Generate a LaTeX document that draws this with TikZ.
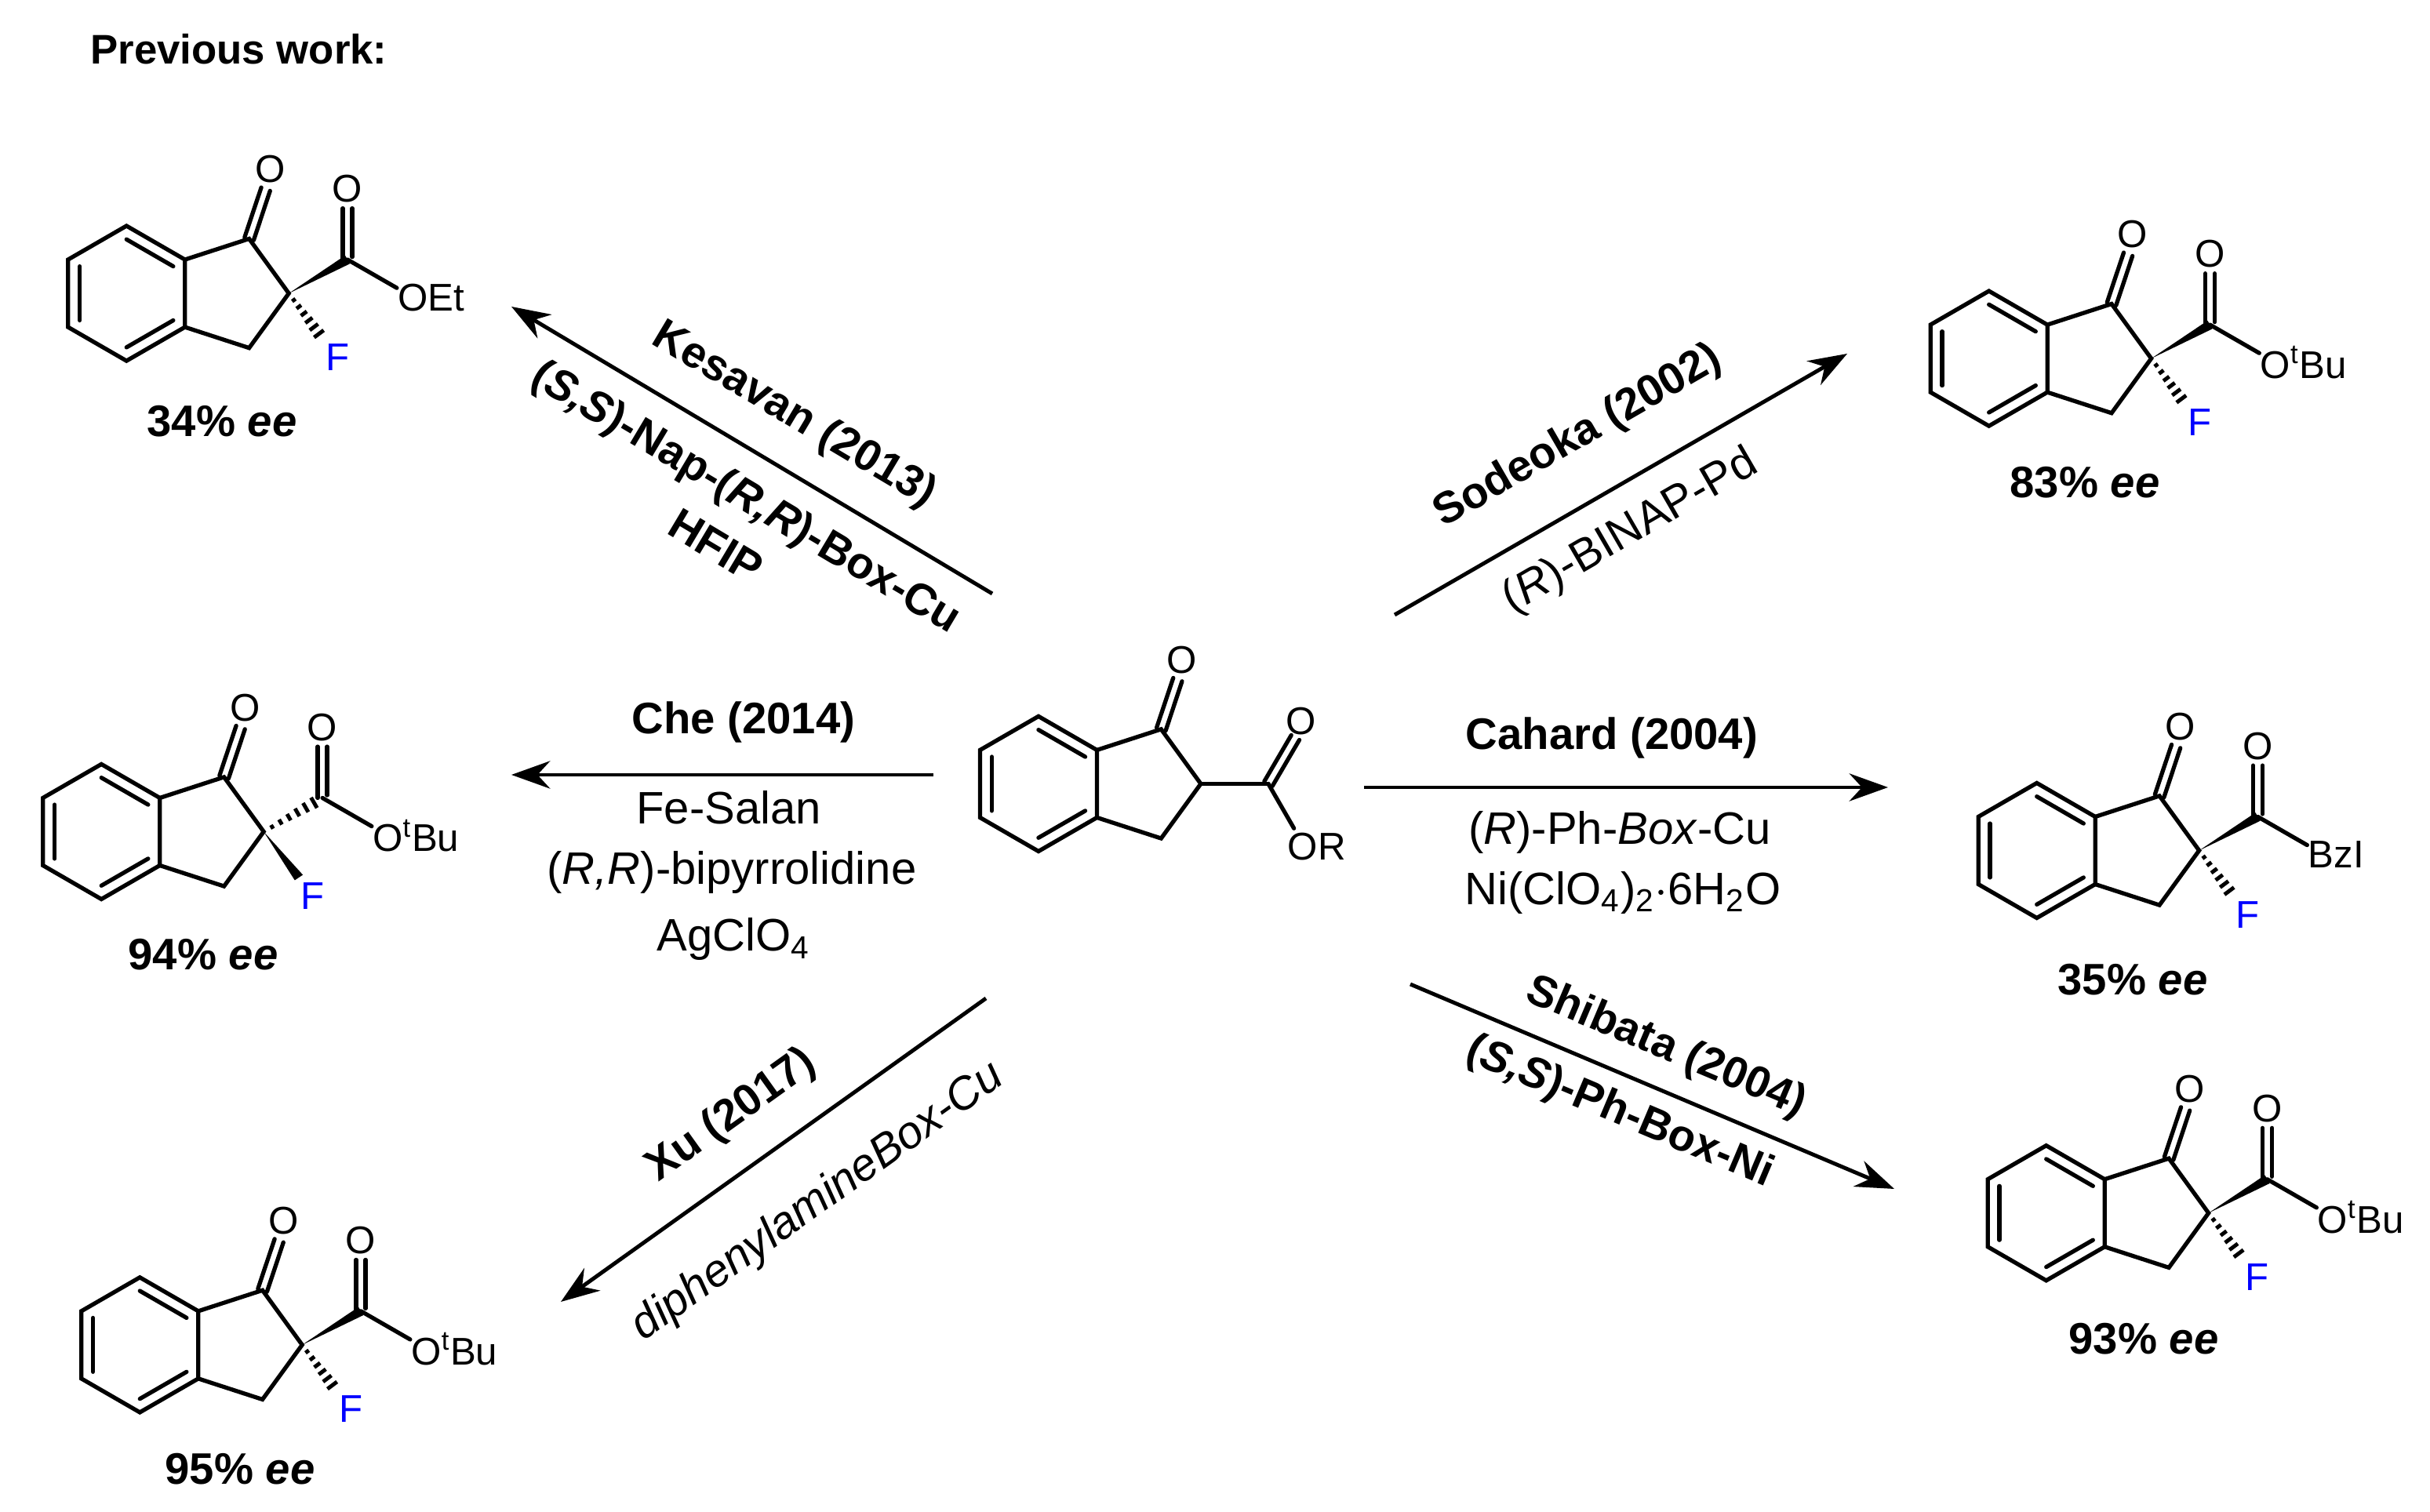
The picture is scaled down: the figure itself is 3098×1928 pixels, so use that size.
\documentclass[tikz,border=0pt]{standalone}
\usepackage{fontspec}
\setmainfont{Liberation Sans}
\usetikzlibrary{calc,arrows.meta}
\tikzset{
  bond/.style={line width=1.5pt,line cap=round},
  atom/.style={inner sep=0pt,font=\fontsize{14}{16}\selectfont},
  fatom/.style={atom,text=blue},
  eelab/.style={font=\fontsize{16}{19}\selectfont\bfseries},
  rname/.style={font=\fontsize{16}{19}\selectfont\bfseries},
  rgt/.style={font=\fontsize{16.5}{19}\selectfont},
  rxn/.style={line width=1.4pt,-{Stealth[length=14pt,width=10pt]}},
}
\newcommand{\indcore}{%
  \coordinate (C2) at (0,0);
  \coordinate (UR) at (-1.539,0.5); \coordinate (LR) at (-1.539,-0.5);
  \coordinate (C1) at (-0.588,0.809); \coordinate (C3) at (-0.588,-0.809);
  \coordinate (BC) at (-2.405,0);
  \coordinate (BT) at (-2.405,1); \coordinate (BB) at (-2.405,-1);
  \coordinate (UL) at (-3.271,0.5); \coordinate (LL) at (-3.271,-0.5);
  \draw[bond] (BT)--(UR)--(LR)--(BB)--(LL)--(UL)--cycle;
  \draw[bond] (UR)--(C1)--(C2)--(C3)--(LR);
  \draw[bond] ($(BT)!0.2!(BC)$)--($(UR)!0.2!(BC)$);
  \draw[bond] ($(UL)!0.2!(BC)$)--($(LL)!0.2!(BC)$);
  \draw[bond] ($(BB)!0.2!(BC)$)--($(LR)!0.2!(BC)$);
  \draw[bond] ($(C1)+(-0.067,0.022)$)--($(C1)+(0.18,0.76)$);
  \draw[bond] ($(C1)+(0.067,-0.022)$)--($(C1)+(0.31,0.71)$);
  \node[atom] (OK) at ($(C1)+(0.31,1.03)$) {O};
}
% #1 shift, #2 mode (1 wedge ester / hash F; 2 hash ester / wedge F), #3 tail text
\newcommand{\prodmol}[3]{%
\begin{scope}[shift={#1},x=0.86cm,y=0.86cm]
  \indcore
  \coordinate (E) at (0.87,0.5);
  \draw[bond] ($(E)+(-0.07,0)$)--($(E)+(-0.07,0.76)$);
  \draw[bond] ($(E)+(0.07,0.04)$)--($(E)+(0.07,0.76)$);
  \node[atom] (OE) at ($(E)+(0,1.05)$) {O};
  \draw[bond] (E)--($(E)+(0.73,-0.42)$);
  \node[atom,anchor=west] (T) at ($(E)+(0.74,-0.56)$) {#3};
  \node[fatom] (F) at (0.72,-0.95) {F};
  \ifnum#2=1
    \fill (0,0)--(0.835,0.561)--(0.905,0.439)--cycle;
    \foreach \i in {1,...,6}{\pgfmathsetmacro\t{\i/7}\pgfmathsetmacro\w{0.02+0.08*\t}
      \draw[line width=1.4pt] ($\t*(0.52,-0.7)+\w*(0.8,0.6)$)--($\t*(0.52,-0.7)-\w*(0.8,0.6)$);}
  \else
    \fill (0,0)--(0.46,-0.72)--(0.58,-0.64)--cycle;
    \foreach \i in {1,...,6}{\pgfmathsetmacro\t{\i/7}\pgfmathsetmacro\w{0.02+0.08*\t}
      \draw[line width=1.4pt] ($\t*(0.87,0.5)+\w*(-0.5,0.87)$)--($\t*(0.87,0.5)-\w*(-0.5,0.87)$);}
  \fi
\end{scope}}
\begin{document}
\begin{tikzpicture}[x=0.01cm,y=0.01cm]
\useasboundingbox (0,0) rectangle (3098,1928);
\node[anchor=west,font=\fontsize{15}{18}\selectfont\bfseries] (title) at (103,{1928-63}) {Previous work:};
% central
\begin{scope}[shift={(15.30cm,9.28cm)},x=0.86cm,y=0.86cm]
  \indcore
  \coordinate (E) at (1,0);
  \draw[bond] (C2)--(E);
  \draw[bond] ($(E)+(-0.06,0.035)$)--($(E)+(0.34,0.72)$);
  \draw[bond] ($(E)+(0.06,-0.035)$)--($(E)+(0.46,0.65)$);
  \node[atom] (OC) at ($(E)+(0.48,0.93)$) {O};
  \draw[bond] (E)--($(E)+(0.38,-0.66)$);
  \node[atom,anchor=west] (OR) at ($(E)+(0.28,-0.93)$) {OR};
\end{scope}
% products
\prodmol{(3.68cm,15.53cm)}{1}{OEt}
\node[eelab] (ee1) at (283,{1928-537}) {34\% \textit{ee}};
\prodmol{(3.36cm,8.67cm)}{2}{O\textsuperscript{t}Bu}
\node[eelab] (ee2) at (259,{1928-1217}) {94\% \textit{ee}};
\prodmol{(3.85cm,2.13cm)}{1}{O\textsuperscript{t}Bu}
\node[eelab] (ee3) at (306,{1928-1873}) {95\% \textit{ee}};
\prodmol{(27.41cm,14.70cm)}{1}{O\textsuperscript{t}Bu}
\node[eelab] (ee4) at (2658,{1928-615}) {83\% \textit{ee}};
\prodmol{(28.02cm,8.43cm)}{1}{BzI}
\node[eelab] (ee5) at (2719,{1928-1249}) {35\% \textit{ee}};
\prodmol{(28.14cm,3.81cm)}{1}{O\textsuperscript{t}Bu}
\node[eelab] (ee6) at (2733,{1928-1707}) {93\% \textit{ee}};
% arrows
\coordinate (a1s) at (1265,{1928-757}); \coordinate (a1e) at (652,{1928-391});
\draw[rxn] (a1s)--(a1e);
\node[rname,rotate=-30.8] at (1012,{1928-530}) {Kesavan (2013)};
\node[rname,rotate=-30.8] at (950,{1928-636}) {(\textit{S,S})-Nap-(\textit{R,R})-Box-Cu};
\node[rname,rotate=-30.8] at (913,{1928-696}) {HFIP};
\coordinate (a2s) at (1778,{1928-784}); \coordinate (a2e) at (2355,{1928-451});
\draw[rxn] (a2s)--(a2e);
\node[rname,rotate=30] at (2012,{1928-557}) {Sodeoka (2002)};
\node[rgt,rotate=30] at (2079,{1928-678}) {(\textit{R})-BINAP-Pd};
\coordinate (a3s) at (1190,{1928-988}); \coordinate (a3e) at (652,{1928-988});
\draw[rxn] (a3s)--(a3e);
\node[rname] at (948,{1928-921}) {Che (2014)};
\node[rgt] at (929,{1928-1030}) {Fe-Salan};
\node[rgt] at (933,{1928-1113}) {(\textit{R,R})-bipyrrolidine};
\node[rgt] at (935,{1928-1198}) {AgClO\textsubscript{4}};
\coordinate (a4s) at (1739,{1928-1004}); \coordinate (a4e) at (2407,{1928-1004});
\draw[rxn] (a4s)--(a4e);
\node[rname] at (2055,{1928-941}) {Cahard (2004)};
\node[rgt] at (2065,{1928-1061}) {(\textit{R})-Ph-\textit{Box}-Cu};
\node[rgt] at (2069,{1928-1138}) {Ni(ClO\textsubscript{4})\textsubscript{2}$\cdot$6H\textsubscript{2}O};
\coordinate (a5s) at (1798,{1928-1255}); \coordinate (a5e) at (2415,{1928-1516});
\draw[rxn] (a5s)--(a5e);
\node[rname,rotate=-22.9] at (2124,{1928-1336}) {Shibata (2004)};
\node[rname,rotate=-22.9] at (2065,{1928-1419}) {(\textit{S,S})-Ph-Box-Ni};
\coordinate (a6s) at (1257,{1928-1273}); \coordinate (a6e) at (715,{1928-1660});
\draw[rxn] (a6s)--(a6e);
\node[rname,rotate=35.6] at (933,{1928-1423}) {Xu (2017)};
\node[rgt,rotate=35.6] at (1043,{1928-1533}) {\textit{diphenylamineBox-Cu}};
\end{tikzpicture}
\end{document}
